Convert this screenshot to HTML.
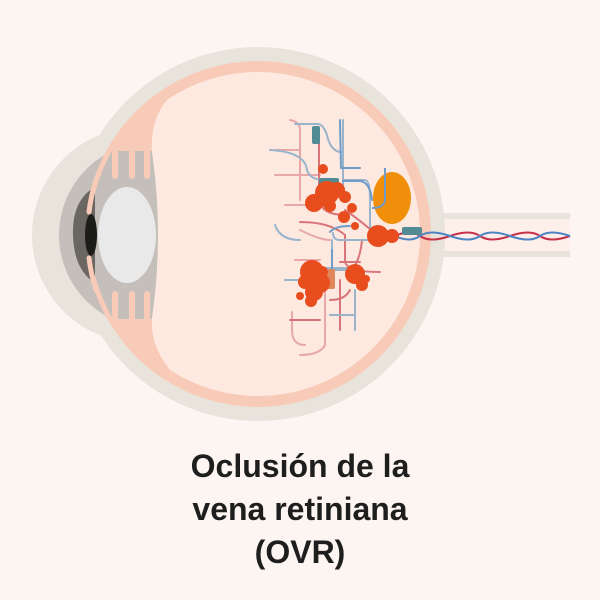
<!DOCTYPE html>
<html><head><meta charset="utf-8"><style>
html,body{margin:0;padding:0;background:#fdf5f2;}
svg{display:block}
</style></head><body>
<svg width="600" height="600" viewBox="0 0 600 600" xmlns="http://www.w3.org/2000/svg">
<defs><clipPath id="inner"><circle cx="258" cy="234" r="168"/></clipPath></defs>
<rect width="600" height="600" fill="#fdf5f2"/>
<!-- optic nerve -->
<rect x="400" y="213" width="170" height="44" fill="#e8e4dc"/>
<rect x="400" y="219" width="170" height="32" fill="#fdf0ea"/>
<!-- sclera -->
<circle cx="140" cy="235" r="108" fill="#e8e4dc"/>
<circle cx="258" cy="234" r="187" fill="#e8e4dc"/>
<!-- gray cornea -->
<circle cx="152" cy="235" r="93" fill="#c4bfba"/>
<!-- choroid pink -->
<circle cx="258" cy="234" r="173" fill="#f8cbb8"/>
<!-- ciliary gray band -->
<g clip-path="url(#inner)">
<path d="M80,151 L153,151 Q158,200 164,235 Q158,270 153,319 L80,319 Z" fill="#c4bfba"/>
<g stroke="#f8cbb8" stroke-width="6" stroke-linecap="round">
<line x1="115" y1="145" x2="115" y2="176"/><line x1="132" y1="145" x2="132" y2="176"/><line x1="147" y1="145" x2="147" y2="176"/>
<line x1="115" y1="294" x2="115" y2="325"/><line x1="132" y1="294" x2="132" y2="325"/><line x1="147" y1="294" x2="147" y2="325"/>
</g>
</g>
<!-- iris -->
<path d="M95,187 Q72,200 73,235 Q74,270 95,283 Z" fill="#6a6662"/>
<ellipse cx="91" cy="235" rx="6" ry="21" fill="#1c1c1a"/>
<path d="M96,180 A170.5,170.5 0 0 0 89,212" stroke="#f8cbb8" stroke-width="5" fill="none" stroke-linecap="round"/>
<path d="M89,258 A170.5,170.5 0 0 0 96,290" stroke="#f8cbb8" stroke-width="5" fill="none" stroke-linecap="round"/>
<!-- lens -->
<ellipse cx="127" cy="235" rx="29" ry="48" fill="#e9e9e9"/>
<!-- vitreous -->
<path d="M167,100 A162,162 0 1 1 170,370 Q150,345 152,318 Q164,235 152,152 Q150,120 167,100 Z" fill="#fde9df"/>
<!-- vessels -->
<g fill="none" stroke-width="2" stroke-linecap="round">
<g stroke="#e8a8a8">
<path d="M290,120 Q300,122 300,130 L300,200"/>
<path d="M275,150 L300,150"/>
<path d="M275,175 L320,175"/>
<path d="M285,205 L320,205"/>
<path d="M300,230 Q320,240 330,240"/>
<path d="M292,312 L292,330 Q292,345 305,345"/>
<path d="M300,355 Q320,355 325,345 L325,290"/>
<path d="M295,260 L320,260"/>
</g>
<g stroke="#d9747a">
<path d="M319,140 L319,200 Q322,215 345,215"/>
<path d="M340,280 L340,330"/>
<path d="M330,300 Q345,300 350,290"/>
<path d="M345,235 L345,262 Q348,272 380,272"/>
<path d="M340,262 L360,262"/>
<path d="M300,222 Q330,222 345,235"/>
<path d="M290,320 L320,320"/>
<path d="M345,210 Q360,220 378,236"/>
<path d="M362,240 Q360,262 350,272"/>
</g>
<g stroke="#9ab4cc">
<path d="M295,124 L318,124 Q323,124 327,135 Q330,150 340,152 L343,152"/>
<path d="M343,120 L343,190"/>
<path d="M270,150 Q305,152 307,170 Q310,180 325,180"/>
<path d="M343,180 L365,180 Q370,180 370,200 L370,225 Q370,238 392,237"/>
<path d="M275,225 Q280,240 300,240"/>
<path d="M333,233 Q333,240 340,240 L375,240"/>
<path d="M332,240 L332,270 L345,270"/>
<path d="M318,268 L360,268"/>
<path d="M355,290 L355,330"/>
<path d="M330,315 L355,315"/>
<path d="M285,280 L310,280"/>
</g>
<g stroke="#6f9cc8">
<path d="M340,120 L341,168 L360,168"/>
<path d="M343,181 L360,181 Q370,182 372,200"/>
<path d="M330,232 Q335,226 350,226"/>
<path d="M332,250 L332,270"/>
</g>
</g>
<!-- nerve vessels -->
<path d="M395,236 Q410,229 420,236 T450,236 T480,236 T510,236 T540,236 T570,236" stroke="#c8304a" stroke-width="2" fill="none"/>
<path d="M395,236 Q410,243 420,236 T450,236 T480,236 T510,236 T540,236 T570,236" stroke="#4f84c4" stroke-width="2" fill="none"/>
<!-- optic disc -->
<ellipse cx="392" cy="198" rx="19" ry="26" fill="#f0900a"/>
<path d="M385,168 L385,200 Q384,208 372,208" stroke="#6f9cc8" stroke-width="2" fill="none"/>
<!-- teal blocks -->
<rect x="312" y="126" width="8" height="18" rx="2" fill="#528b93"/>
<rect x="319" y="178" width="20" height="8" rx="2" fill="#528b93"/>
<rect x="402" y="227" width="20" height="8" rx="2" fill="#528b93"/>
<rect x="327" y="269" width="8" height="20" rx="2" fill="#e0865a"/>
<!-- hemorrhages -->
<g fill="#e84d1e">
<circle cx="323" cy="169" r="5"/>
<circle cx="327" cy="193" r="12"/><circle cx="337" cy="190" r="8"/><circle cx="314" cy="203" r="9"/><circle cx="330" cy="206" r="6"/><circle cx="345" cy="197" r="6"/><circle cx="321" cy="200" r="7"/>
<circle cx="352" cy="208" r="5"/><circle cx="344" cy="217" r="6"/><circle cx="355" cy="226" r="4"/>
<circle cx="378" cy="236" r="11"/><circle cx="392" cy="236" r="7"/>
<circle cx="312" cy="272" r="12"/><circle cx="320" cy="283" r="10"/><circle cx="305" cy="282" r="7"/><circle cx="314" cy="292" r="9"/><circle cx="300" cy="296" r="4"/><circle cx="311" cy="301" r="6"/><circle cx="322" cy="272" r="6"/>
<circle cx="355" cy="274" r="10"/><circle cx="362" cy="285" r="6"/><circle cx="366" cy="279" r="4"/>
</g>
<g font-family="'Liberation Sans',sans-serif" font-weight="bold" font-size="32" fill="#1e1e1e" text-anchor="middle">
<text x="300" y="477">Oclusión de la</text>
<text x="300" y="520">vena retiniana</text>
<text x="300" y="563">(OVR)</text>
</g>
</svg>
</body></html>
